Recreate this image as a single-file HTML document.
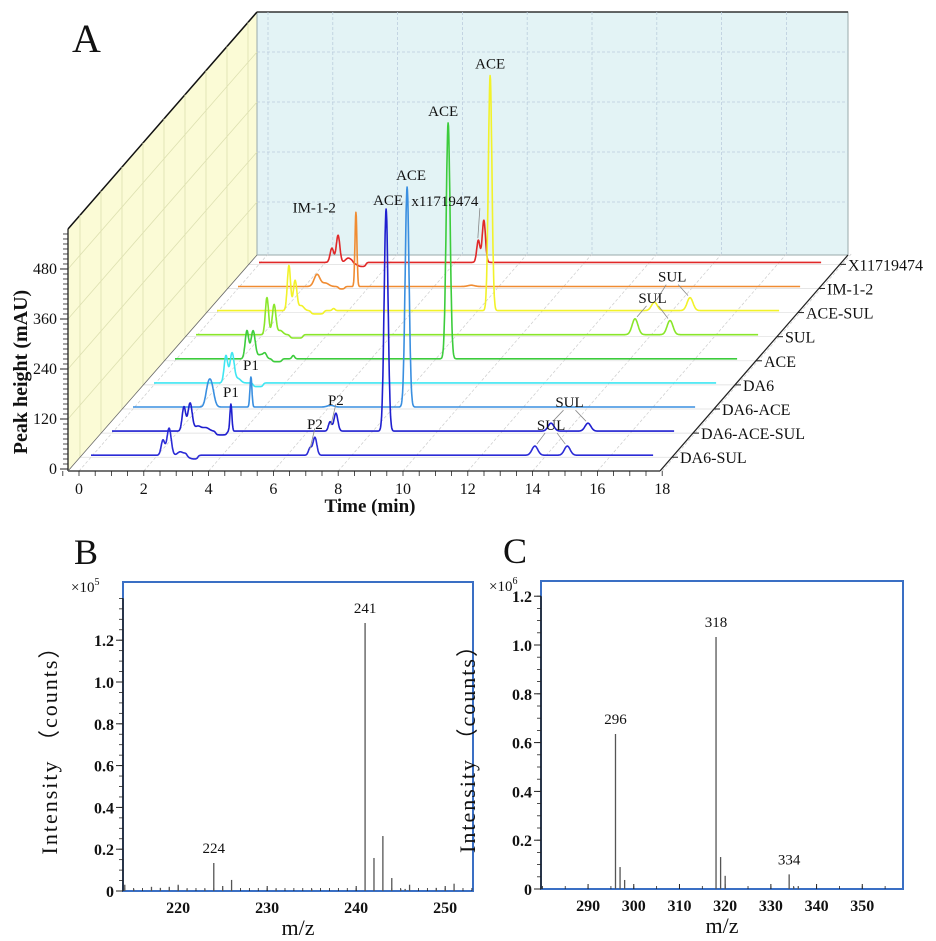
<!DOCTYPE html>
<html><head><meta charset="utf-8"><style>
html,body{margin:0;padding:0;background:#fff;}
svg{display:block;}
text{font-family:"Liberation Serif",serif;fill:#111;}
</style></head><body>
<svg id="fig" width="936" height="941" viewBox="0 0 936 941" xmlns="http://www.w3.org/2000/svg">
<g id="gA"></g>
<g id="gB"></g>
<g id="gC"></g>
</svg>
<script>
// ===== Panel A data =====
const seriesNames = ["DA6-SUL","DA6-ACE-SUL","DA6-ACE","DA6","ACE","SUL","ACE-SUL","IM-1-2","X11719474"];
const seriesColors = ["#2b2bd6","#1f1fcf","#3a8fe0","#3fe6f2","#3ccc3c","#8ae62a","#f2f22a","#f08c32","#e02828"];
// peaks: [time(min), height(mAU), sigma(min)]
const peaksDA6SUL = [[2.22,36,0.055],[2.41,65,0.065],[2.75,8,0.08],[2.95,5,0.08],[6.76,17,0.05],[6.91,43,0.06],[13.7,22,0.09],[14.7,22,0.09]];
const peaksDA6ACESUL = [[2.22,58,0.055],[2.41,67,0.065],[2.65,12,0.1],[2.9,8,0.1],[3.67,65,0.03],[6.73,22,0.05],[6.91,43,0.06],[8.46,533,0.06],[13.55,19,0.09],[14.69,19,0.09]];
const peaksDA6ACE = [[2.3,30,0.07],[2.41,55,0.085],[3.64,72,0.03],[6.1,4,0.1],[8.46,528,0.06]];
const peaksDA6 = [[2.22,65,0.055],[2.41,72,0.065],[2.6,10,0.08]];
const peaksACE = [[2.22,67,0.055],[2.41,67,0.065],[2.65,10,0.1],[2.78,10,0.05],[3.65,8,0.04],[8.43,566,0.06]];
const peaksSUL = [[2.19,89,0.05],[2.41,72,0.055],[2.6,10,0.08],[13.55,38,0.09],[14.63,34,0.09]];
const peaksACESUL = [[2.22,108,0.05],[2.41,72,0.055],[2.6,12,0.08],[3.6,5,0.04],[8.43,564,0.055],[13.5,20,0.09],[14.6,31,0.09]];
const peaksIM12 = [[2.44,29,0.09],[2.7,8,0.1],[3.64,178,0.03],[7.2,3,0.1]];
const peaksX117 = [[2.25,34,0.055],[2.44,65,0.055],[2.75,10,0.08],[2.95,6,0.08],[6.77,53,0.05],[6.94,101,0.05]];
const seriesPeaks = [peaksDA6SUL,peaksDA6ACESUL,peaksDA6ACE,peaksDA6,peaksACE,peaksSUL,peaksACESUL,peaksIM12,peaksX117];
// baseline dips: [start, end, depth(mAU)]
const seriesDips = [[[2.96,3.3,-9]],[[3.2,3.55,-9]],[],[[3.06,3.37,-9]],[[3.0,3.3,-7]],[[2.9,3.3,-8]],[[2.9,3.3,-8]],[[3.1,3.3,-6]],[[2.9,3.3,-10]]];
const timeTicks = [0,2,4,6,8,10,12,14,16,18];
const heightTicks = [0,120,240,360,480];
// annotations: [seriesIndex, peakTime, label]
const annotations = [[6,8.43,"ACE"],[4,8.43,"ACE"],[2,8.46,"ACE"],[1,8.46,"ACE"],[7,3.64,"IM-1-2"],[8,6.94,"x11719474"],[2,3.64,"P1"],[1,3.67,"P1"],[1,6.91,"P2"],[0,6.91,"P2"]];
const sulPairs = [[6,13.5,14.6],[5,13.55,14.63],[1,13.55,14.69],[0,13.7,14.7]];

// ===== Panel B / C data =====
const bMz = [214,215,217,218,219,220,221,223,224,225,226,231,235,241,242,243,244,245,245.5,246,249,250,251];
const bInt = [0.03,0.01,0.02,0.015,0.02,0.03,0.01,0.01,0.134,0.024,0.053,0.01,0.01,1.282,0.158,0.263,0.062,0.01,0.01,0.03,0.015,0.015,0.035];
const bYTicks = [0,0.2,0.4,0.6,0.8,1.0,1.2];
const bXTicks = [220,230,240,250];
const bLabels = [[224,"224"],[241,"241"]];
const cMz = [296,297,298,318,319,320,334,335,336];
const cInt = [0.635,0.09,0.037,1.033,0.131,0.054,0.06,0.008,0.012];
const cYTicks = [0,0.2,0.4,0.6,0.8,1.0,1.2];
const cXTicks = [290,300,310,320,330,340,350];
const cLabels = [[296,"296"],[318,"318"],[334,"334"]];

const NS="http://www.w3.org/2000/svg";
function mk(parent,tag,attrs,txt){const e=document.createElementNS(NS,tag);for(const k in attrs)e.setAttribute(k,attrs[k]);if(txt!==undefined)e.textContent=txt;parent.appendChild(e);return e;}

// ===== Panel A =====
const gA=document.getElementById('gA');
const X0=79, PXT=32.4, Y0=469, PXV=0.4167, DX=189, SLOPE=1.148;
function depth(i){return 12+21*i;}
function AX(t,d){return X0+PXT*t+d;}
function AY(v,d){return Y0-PXV*v-d*SLOPE;}
function sig(x){return 1/(1+Math.exp(-x));}
function val(i,t){let v=0;for(const p of seriesPeaks[i]){const z=(t-p[0])/p[2];v+=p[1]*Math.exp(-0.5*z*z);}
 for(const d of seriesDips[i]){v+=d[2]*sig((t-d[0])/0.02)*sig((d[1]-t)/0.02);}return v;}

let e;
e=mk(gA,'text',{x:72,y:52,'font-size':40},'A');


e=mk(gA,'polygon',{points:"68,471 68,229 257,12 257,255",fill:"#fbfbd6",stroke:"none"});


e=mk(gA,'polygon',{points:"257,12 848,12 848,255 257,255",fill:"#e3f3f5",stroke:"#9aa",'stroke-width':1});


mk(gA,'line',{x1:68,y1:229,x2:257,y2:12,stroke:"#111",'stroke-width':1.5});
mk(gA,'line',{x1:257,y1:12,x2:848,y2:12,stroke:"#333",'stroke-width':1.5});
for(let t=0;t<=18;t+=2){const x=AX(t,DX);if(x>257&&x<848)mk(gA,'line',{x1:x,y1:12,x2:x,y2:255,stroke:"#bcd",'stroke-width':0.8,'stroke-dasharray':"3,2"});}
for(let v=120;v<=480;v+=120){const y=AY(v,DX);mk(gA,'line',{x1:257,y1:y,x2:848,y2:y,stroke:"#bcd",'stroke-width':0.8,'stroke-dasharray':"3,2"});}
for(let i=0;i<9;i++){const d=depth(i);const x=68+d;mk(gA,'line',{x1:x,y1:471-d*SLOPE,x2:x,y2:229-d*SLOPE,stroke:"#dde0b0",'stroke-width':0.8});}
for(let v=120;v<=480;v+=120){mk(gA,'line',{x1:68,y1:AY(v,0),x2:257,y2:AY(v,DX),stroke:"#dde0b0",'stroke-width':0.8});}
for(let t=0;t<=18;t+=2){mk(gA,'line',{x1:AX(t,0),y1:471,x2:AX(t,DX),y2:471-DX*SLOPE,stroke:"#ccc",'stroke-width':0.7,'stroke-dasharray':"3,2"});}
for(let i=0;i<9;i++){const d=depth(i);mk(gA,'line',{x1:68+d,y1:471-d*SLOPE,x2:660+d,y2:471-d*SLOPE,stroke:"#ddd",'stroke-width':0.7});}
mk(gA,'line',{x1:68,y1:471,x2:68,y2:229,stroke:"#222",'stroke-width':1.3});
mk(gA,'line',{x1:68,y1:471,x2:660,y2:471,stroke:"#222",'stroke-width':1.3});
mk(gA,'line',{x1:68,y1:471,x2:257,y2:255,stroke:"#666",'stroke-width':0.8});
mk(gA,'line',{x1:660,y1:471,x2:848,y2:255,stroke:"#222",'stroke-width':1.3});
for(let v=0;v<=576;v+=12){const y=AY(v,0);if(y<229)break;mk(gA,'line',{x1:63,y1:y,x2:68,y2:y,stroke:"#222",'stroke-width':0.8});}
for(const v of heightTicks){const y=AY(v,0);mk(gA,'line',{x1:60,y1:y,x2:68,y2:y,stroke:"#222",'stroke-width':1});
 e=mk(gA,'text',{x:57,y:y+5,'font-size':16,'text-anchor':'end'},String(v));
 
 }
for(let t=-0.5;t<=18.01;t+=0.5){const x=AX(t,0);mk(gA,'line',{x1:x,y1:471,x2:x,y2:476,stroke:"#222",'stroke-width':0.8});}
for(const t of timeTicks){const x=AX(t,0);
 e=mk(gA,'text',{x:x,y:494,'font-size':16,'text-anchor':'middle'},String(t));
 
 }
e=mk(gA,'text',{x:370,y:512,'font-size':19,'text-anchor':'middle','font-weight':'bold'},'Time (min)');


e=mk(gA,'text',{x:0,y:0,'font-size':20,'text-anchor':'middle','font-weight':'bold',transform:'translate(27,372) rotate(-90)'},'Peak height (mAU)');


for(let i=8;i>=0;i--){const d=depth(i);let pts=[];
 for(let t=0;t<=17.35;t+=0.01){pts.push(AX(t,d).toFixed(1)+","+AY(val(i,t),d).toFixed(1));}
 e=mk(gA,'polyline',{points:pts.join(" "),fill:"none",stroke:seriesColors[i],'stroke-width':1.6,'stroke-linejoin':'round'});
 
 
 const ex=660+d, ey=471-d*SLOPE;
 mk(gA,'line',{x1:ex,y1:ey,x2:ex+6,y2:ey,stroke:"#222",'stroke-width':1});
 e=mk(gA,'text',{x:ex+8,y:ey+6,'font-size':16},seriesNames[i]);
 
 }
for(const a of annotations){const [i,t,lab]=a;const d=depth(i);const x=AX(t,d), y=AY(val(i,t),d);
 let tx=x, ty=y-7, anchor='middle';
 if(lab==="IM-1-2"){tx=x-20;anchor='end';ty=y;}
 if(lab==="x11719474"){tx=x-39;ty=y-14;mk(gA,'line',{x1:x-6,y1:y+18,x2:x-4,y2:y-12,stroke:"#888",'stroke-width':0.8});}
 if(lab==="P2"){ty=y-8;mk(gA,'line',{x1:x-5,y1:y+12,x2:x,y2:y-9,stroke:"#888",'stroke-width':0.8});}
 if(lab==="ACE"&&i===1){tx=x+2;ty=y-4;}
 if(lab==="ACE"&&i===2){tx=x+4;}
 if(lab==="ACE"&&i===4){tx=x-5;}
 e=mk(gA,'text',{x:tx,y:ty,'font-size':15,'text-anchor':anchor},lab);
 
 }
for(const s of sulPairs){const [i,t1,t2]=s;const d=depth(i);
 const x1=AX(t1,d),y1=AY(val(i,t1),d),x2=AX(t2,d),y2=AY(val(i,t2),d);
 const lx=(x1+x2)/2, ly=Math.min(y1,y2)-16;
 mk(gA,'line',{x1:lx-6,y1:ly+3,x2:x1+2,y2:y1-2,stroke:"#888",'stroke-width':0.8});
 mk(gA,'line',{x1:lx+6,y1:ly+3,x2:x2-2,y2:y2-2,stroke:"#888",'stroke-width':0.8});
 e=mk(gA,'text',{x:lx,y:ly,'font-size':15,'text-anchor':'middle'},'SUL');
 
 }

// ===== Mass spectra =====
function spectrum(g,cfg){
 const {L,T,R,B,mz0,pxmz,y0,pxv,mz,inten,yt,xt,labels,letter,letterX,mult,yMax,xMinorStep}=cfg;
 const px=m=>L+(m-mz0)*pxmz, py=v=>y0-v*pxv;
 let e=mk(g,'text',{x:letterX,y:T-18,'font-size':36},letter);
 
 
 e=mk(g,'rect',{x:L,y:T,width:R-L,height:B-T,fill:"none",stroke:"#3a6fc4",'stroke-width':2});
 
 
 mk(g,'line',{x1:L,y1:B,x2:L,y2:py(yMax),stroke:"#222",'stroke-width':1.5});
 for(let v=0;v<=yMax+1e-6;v+=0.05){const y=py(v);mk(g,'line',{x1:L-4,y1:y,x2:L,y2:y,stroke:"#222",'stroke-width':0.8});}
 for(const v of yt){const y=py(v);mk(g,'line',{x1:L-7,y1:y,x2:L,y2:y,stroke:"#222",'stroke-width':1});
  e=mk(g,'text',{x:L-9,y:y+6,'font-size':16,'font-weight':'bold','text-anchor':'end'},v===0?"0":v.toFixed(1));
  
  }
 for(let m=Math.ceil(mz0);px(m)<R;m+=xMinorStep){mk(g,'line',{x1:px(m),y1:B,x2:px(m),y2:B-3,stroke:"#222",'stroke-width':0.8});}
 for(const m of xt){const x=px(m);mk(g,'line',{x1:x,y1:B,x2:x,y2:B-5,stroke:"#222",'stroke-width':1});
  e=mk(g,'text',{x:x,y:B+22,'font-size':16,'font-weight':'bold','text-anchor':'middle'},String(m));
  
  }
 for(let k=0;k<mz.length;k++){e=mk(g,'line',{x1:px(mz[k]),y1:B,x2:px(mz[k]),y2:py(inten[k]),stroke:"#555",'stroke-width':1.3});
  
  }
 for(const lb of labels){const k=mz.indexOf(lb[0]);
  e=mk(g,'text',{x:px(lb[0]),y:py(inten[k])-10,'font-size':15,'text-anchor':'middle'},lb[1]);
  
  }
 e=mk(g,'text',{x:(L+R)/2,y:B+44,'font-size':22,'text-anchor':'middle'},'m/z');
 
 
 e=mk(g,'text',{x:0,y:0,'font-size':22,'text-anchor':'middle','letter-spacing':'2',transform:`translate(${L-66},${(T+B)/2+8}) rotate(-90)`},'Intensity （counts）');
 
 
 const m=mk(g,'text',{x:L-52,y:T+10,'font-size':15},'×10');
 
 
 mk(m,'tspan',{dy:-7,'font-size':10},mult);
}
spectrum(document.getElementById('gB'),{L:123,T:582,R:473,B:891,mz0:213.8,pxmz:8.9,y0:891,pxv:209,mz:bMz,inten:bInt,yt:bYTicks,xt:bXTicks,labels:bLabels,letter:"B",letterX:74,mult:"5",yMax:1.4,xMinorStep:1});
spectrum(document.getElementById('gC'),{L:541,T:581,R:903,B:889,mz0:279.7,pxmz:4.57,y0:889,pxv:244,mz:cMz,inten:cInt,yt:cYTicks,xt:cXTicks,labels:cLabels,letter:"C",letterX:503,mult:"6",yMax:1.2,xMinorStep:5});
</script>
</body></html>
